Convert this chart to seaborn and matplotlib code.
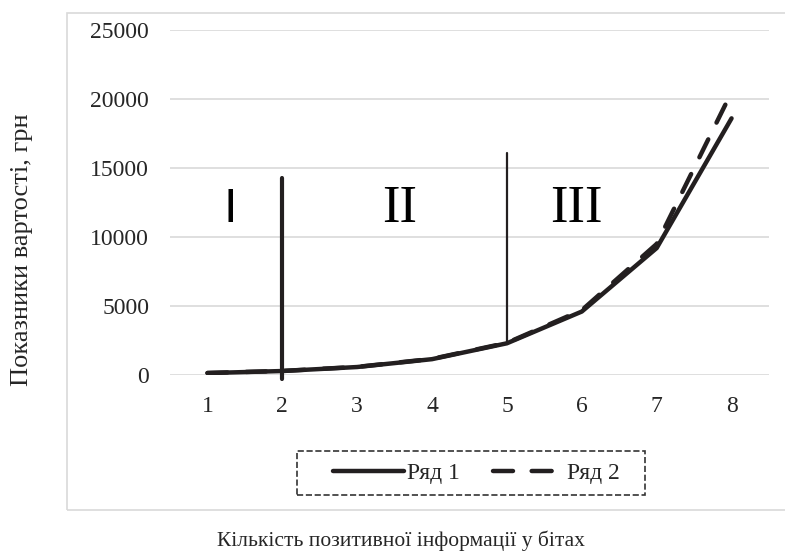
import numpy as np
import pandas as pd
import matplotlib
matplotlib.use("Agg")
import matplotlib.pyplot as plt
import seaborn as sns
from matplotlib.patches import Rectangle

# -------------------------------
# Data
# -------------------------------
bits = [1, 2, 3, 4, 5, 6, 7, 8]
series1 = [140, 290, 580, 1150, 2300, 4600, 9200, 18600]
series2 = [150, 295, 590, 1170, 2330, 4700, 9500, 20500]
series_names = ["Ряд 1", "Ряд 2"]

# zone boundaries (x position, bottom, top)
bound_x = [2, 5]
bound_low = [-300, 2300]
bound_high = [14300, 16100]

zone_labels = ["I", "II", "III"]
zone_x = [1.30, 3.56, 5.93]
zone_y = 12000

df = pd.DataFrame({
    "x": bits * 2,
    "y": series1 + series2,
    "s": [series_names[0]] * 8 + [series_names[1]] * 8,
})

# -------------------------------
# Plot
# -------------------------------
sns.set_style("white")
plt.rcParams["font.family"] = ["Liberation Serif", "DejaVu Serif"]

fig = plt.figure(figsize=(7.85, 5.56), dpi=100)
ax = fig.add_axes([0.2166, 0.3255, 0.763, 0.6205])

# outer chart frame
fig.patches.append(Rectangle((0.0854, 0.0827), 0.92, 0.894, transform=fig.transFigure,
                             fill=False, edgecolor="#d9d9d9", linewidth=1.2))

dark = "#231f20"
sns.lineplot(data=df[df.s == series_names[0]], x="x", y="y", ax=ax, color=dark,
             linewidth=3.2, label=series_names[0], solid_capstyle="round")
sns.lineplot(data=df[df.s == series_names[1]], x="x", y="y", ax=ax, color=dark,
             linewidth=3.2, label=series_names[1])
ax.lines[1].set_linestyle((0, (4.5, 4.2)))
ax.lines[1].set_dash_capstyle("round")

# zone separators
ax.plot([bound_x[0]] * 2, [bound_low[0], bound_high[0]], color=dark, lw=3, clip_on=False)
ax.plot([bound_x[1]] * 2, [bound_low[1], bound_high[1]], color=dark, lw=1.6, clip_on=False)

for lab, zx in zip(zone_labels, zone_x):
    fam = ["Liberation Sans"] if lab == "I" else ["Liberation Serif"]
    ax.text(zx, zone_y, lab, fontsize=35 if lab == "I" else 38, family=fam,
            ha="center", va="center", color="black")

ax.set_xlim(0.5, 8.5)
ax.set_ylim(0, 25000)
ax.set_xticks(bits)
ax.set_yticks([0, 5000, 10000, 15000, 20000, 25000])
ax.tick_params(axis="both", length=0, labelsize=17)
ax.tick_params(axis="x", pad=15)
ax.tick_params(axis="y", pad=15)
ax.grid(axis="y", color="#d9d9d9", linewidth=1.2)
ax.set_axisbelow(True)
for sp in ax.spines.values():
    sp.set_visible(False)
ax.set_xlabel("")
ax.set_ylabel("")

# legend (dashed box drawn separately)
leg = ax.legend(loc="center", bbox_to_anchor=(0.5117, -0.284), ncol=2, fontsize=17,
                handlelength=3.0, handletextpad=0.15, columnspacing=1.4,
                frameon=False, borderpad=0)
ax.add_patch(Rectangle((0.212, -0.3478), 0.581, 0.1275, transform=ax.transAxes,
                       fill=False, linestyle="--", edgecolor="#333333",
                       linewidth=1.2, clip_on=False))

fig.text(401 / 785, 1 - 541 / 556, "Кількість позитивної інформації у бітах",
         fontsize=15.5, ha="center", va="center")
fig.text(22 / 785, 1 - 250 / 556, "Показники вартості, грн",
         fontsize=19, ha="center", va="center", rotation=90)

fig.savefig("out.png", dpi=100)
